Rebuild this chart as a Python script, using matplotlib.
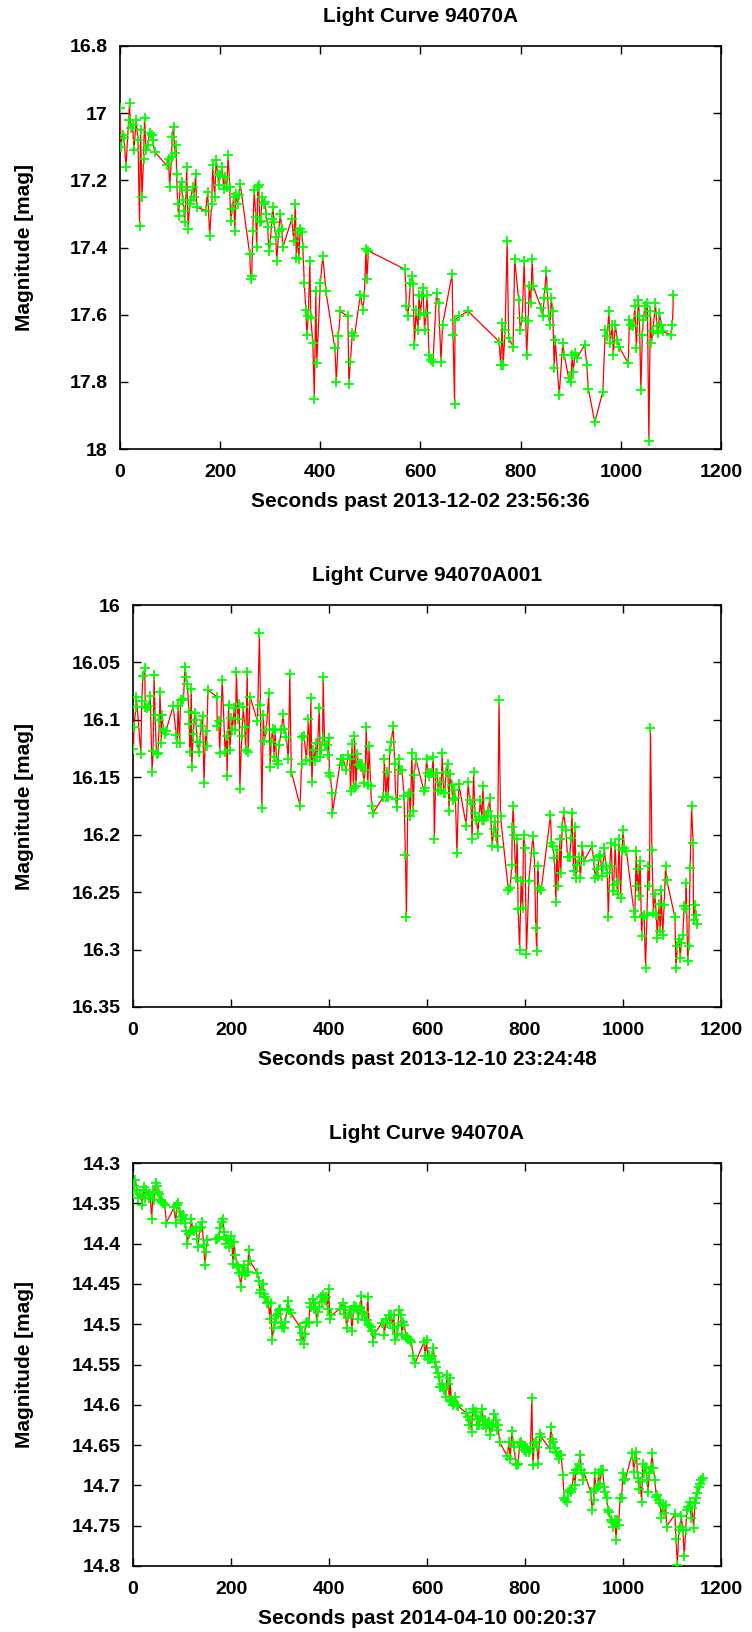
import numpy as np
import matplotlib
matplotlib.use("Agg")
import matplotlib.pyplot as plt
import matplotlib.ticker as mticker

# ── Panel 1: Light Curve 94070A (2013-12-02) ────────────────────────────────
t1 = [0, 2, 5, 8, 12, 17, 19, 21, 25, 28, 32, 36, 39, 41, 44, 47, 49, 52, 55, 59,
      63, 65, 69, 93, 97, 99, 103, 104, 107, 109, 112, 113, 115, 117, 120, 123, 125,
      128, 129, 132, 133, 136, 139, 141, 145, 148, 151, 153, 171, 175, 179, 183, 185,
      189, 192, 195, 197, 200, 204, 207, 209, 213, 216, 219, 221, 224, 227, 229, 232,
      235, 237, 240, 259, 261, 263, 265, 268, 271, 273, 275, 277, 279, 281, 284, 287,
      289, 292, 295, 297, 300, 303, 305, 308, 311, 313, 317, 320, 323, 325, 343, 347,
      350, 352, 355, 357, 360, 363, 365, 368, 371, 373, 376, 379, 381, 385, 388, 391,
      393, 400, 405, 411, 429, 432, 436, 440, 455, 457, 460, 464, 468, 480, 485, 488,
      491, 493, 496, 569, 572, 575, 580, 583, 585, 588, 591, 595, 597, 600, 603, 605,
      608, 611, 613, 617, 621, 625, 632, 636, 641, 644, 663, 665, 668, 669, 677, 695,
      757, 760, 763, 765, 769, 773, 776, 785, 788, 796, 799, 803, 807, 812, 815, 817,
      820, 823, 825, 841, 844, 847, 851, 853, 856, 859, 861, 864, 867, 869, 877, 884,
      887, 896, 900, 903, 905, 909, 912, 928, 932, 935, 948, 964, 969, 973, 976, 979,
      983, 985, 989, 993, 996, 1015, 1017, 1021, 1025, 1028, 1031, 1035, 1037, 1040,
      1043, 1045, 1048, 1051, 1053, 1056, 1059, 1061, 1064, 1069, 1072, 1075, 1077,
      1081, 1084, 1100, 1103, 1105]
m1 = [16.985, 17.10, 17.065, 17.075, 17.16, 17.02, 16.97, 17.045, 17.035, 17.11, 17.02,
      17.08, 17.335, 17.05, 17.25, 17.135, 17.015, 17.11, 17.095, 17.06, 17.065, 17.08,
      17.115, 17.155, 17.135, 17.22, 17.13, 17.07, 17.04, 17.12, 17.095, 17.18, 17.27,
      17.305, 17.22, 17.205, 17.26, 17.29, 17.325, 17.23, 17.16, 17.345, 17.27, 17.26,
      17.22, 17.25, 17.18, 17.28, 17.29, 17.235, 17.365, 17.27, 17.155, 17.25, 17.14,
      17.18, 17.215, 17.185, 17.16, 17.225, 17.19, 17.22, 17.125, 17.22, 17.32, 17.285,
      17.25, 17.35, 17.24, 17.27, 17.245, 17.21, 17.42, 17.495, 17.485, 17.35, 17.23,
      17.31, 17.40, 17.22, 17.215, 17.325, 17.32, 17.25, 17.27, 17.265, 17.30, 17.34,
      17.41, 17.39, 17.315, 17.28, 17.325, 17.37, 17.44, 17.35, 17.30, 17.345, 17.40,
      17.315, 17.38, 17.27, 17.43, 17.355, 17.435, 17.345, 17.355, 17.40, 17.505,
      17.585, 17.66, 17.605, 17.44, 17.61, 17.685, 17.85, 17.53, 17.745, 17.505,
      17.425, 17.53, 17.70, 17.80, 17.665, 17.59, 17.605, 17.805, 17.74, 17.655,
      17.665, 17.54, 17.585, 17.545, 17.405, 17.495, 17.41, 17.465, 17.575, 17.605,
      17.505, 17.485, 17.51, 17.69, 17.585, 17.645, 17.54, 17.60, 17.545, 17.52,
      17.645, 17.595, 17.54, 17.72, 17.735, 17.74, 17.535, 17.565, 17.74, 17.63, 17.48,
      17.66, 17.865, 17.615, 17.605, 17.59, 17.68, 17.75, 17.625, 17.75, 17.645, 17.38,
      17.67, 17.695, 17.435, 17.555, 17.645, 17.61, 17.44, 17.72, 17.62, 17.515,
      17.565, 17.435, 17.515, 17.58, 17.605, 17.55, 17.47, 17.525, 17.605, 17.63,
      17.55, 17.59, 17.76, 17.675, 17.84, 17.685, 17.72, 17.79, 17.80, 17.72, 17.77,
      17.715, 17.73, 17.69, 17.75, 17.82, 17.92, 17.83, 17.645, 17.665, 17.59, 17.685,
      17.63, 17.72, 17.63, 17.675, 17.695, 17.745, 17.615, 17.63, 17.635, 17.575,
      17.70, 17.555, 17.605, 17.825, 17.66, 17.615, 17.575, 17.605, 17.565, 17.975,
      17.59, 17.685, 17.65, 17.565, 17.635, 17.655, 17.595, 17.63, 17.65, 17.66,
      17.63, 17.54]

# ── Panel 2: Light Curve 94070A001 (2013-12-10) ─────────────────────────────
t2 = [1, 2, 6, 7, 16, 18, 20, 24, 25, 28, 32, 35, 39, 41, 43, 45, 48, 51, 54, 55, 58,
      59, 62, 65, 67, 82, 88, 90, 92, 95, 97, 100, 103, 106, 108, 111, 114, 115, 116,
      119, 120, 123, 126, 128, 131, 134, 136, 139, 142, 145, 148, 150, 153, 171, 172,
      175, 177, 182, 188, 191, 192, 195, 198, 201, 203, 206, 209, 211, 214, 217, 218,
      222, 225, 228, 230, 233, 235, 239, 254, 258, 260, 263, 266, 268, 272, 277, 280,
      282, 285, 288, 290, 293, 296, 298, 303, 306, 309, 313, 317, 320, 323, 341, 344,
      345, 349, 354, 358, 361, 363, 365, 368, 371, 373, 376, 380, 382, 384, 387, 388,
      391, 395, 398, 399, 401, 403, 406, 407, 424, 427, 429, 435, 439, 442, 444, 447,
      450, 452, 455, 458, 460, 463, 466, 468, 471, 474, 476, 479, 482, 485, 487, 490,
      511, 513, 516, 519, 521, 524, 527, 531, 534, 536, 539, 542, 545, 549, 553, 556,
      558, 561, 564, 566, 569, 572, 574, 577, 594, 596, 599, 602, 605, 607, 610, 613,
      615, 618, 621, 623, 626, 629, 631, 634, 636, 639, 642, 645, 647, 650, 653, 656,
      658, 661, 665, 680, 684, 687, 690, 692, 695, 698, 701, 704, 706, 709, 712, 714,
      717, 720, 722, 725, 728, 730, 733, 736, 739, 741, 744, 747, 750, 766, 770, 773,
      774, 776, 778, 781, 784, 786, 789, 792, 795, 797, 800, 803, 808, 816, 819, 822,
      824, 826, 828, 833, 852, 854, 857, 860, 863, 865, 868, 871, 873, 876, 879, 883,
      887, 891, 894, 896, 899, 902, 904, 907, 910, 913, 917, 920, 937, 940, 943, 946,
      948, 951, 954, 957, 959, 962, 965, 968, 970, 973, 976, 979, 981, 984, 987, 989,
      992, 995, 998, 1000, 1003, 1007, 1022, 1024, 1027, 1028, 1030, 1032, 1035, 1038,
      1040, 1043, 1046, 1049, 1051, 1054, 1056, 1059, 1062, 1065, 1068, 1070, 1073,
      1076, 1078, 1081, 1084, 1087, 1089, 1106, 1108, 1111, 1114, 1117, 1119, 1122,
      1125, 1128, 1129, 1132, 1134, 1137, 1140, 1143, 1144, 1147, 1149, 1152]
m2 = [16.125, 16.106, 16.089, 16.08, 16.13, 16.084, 16.062, 16.055, 16.089, 16.09,
      16.088, 16.079, 16.145, 16.127, 16.061, 16.096, 16.13, 16.129, 16.10, 16.076,
      16.12, 16.096, 16.108, 16.112, 16.11, 16.088, 16.113, 16.12, 16.088, 16.12,
      16.083, 16.083, 16.082, 16.054, 16.063, 16.069, 16.093, 16.104, 16.128, 16.073,
      16.141, 16.112, 16.094, 16.10, 16.119, 16.128, 16.119, 16.105, 16.097, 16.155,
      16.11, 16.123, 16.074, 16.08, 16.105, 16.101, 16.129, 16.065, 16.128, 16.114,
      16.149, 16.087, 16.126, 16.098, 16.109, 16.09, 16.109, 16.058, 16.099, 16.086,
      16.16, 16.114, 16.089, 16.106, 16.126, 16.058, 16.128, 16.08, 16.101, 16.024,
      16.087, 16.177, 16.096, 16.118, 16.109, 16.077, 16.141, 16.119, 16.108, 16.132,
      16.109, 16.136, 16.138, 16.122, 16.109, 16.095, 16.108, 16.115, 16.134, 16.06,
      16.145, 16.175, 16.138, 16.115, 16.114, 16.135, 16.099, 16.136, 16.081, 16.154,
      16.126, 16.136, 16.12, 16.132, 16.09, 16.132, 16.126, 16.116, 16.063, 16.122,
      16.122, 16.131, 16.116, 16.146, 16.149, 16.164, 16.181, 16.134, 16.139, 16.134,
      16.144, 16.131, 16.134, 16.162, 16.121, 16.159, 16.114, 16.158, 16.13, 16.139,
      16.138, 16.141, 16.138, 16.155, 16.144, 16.106, 16.157, 16.123, 16.158, 16.175,
      16.181, 16.167, 16.134, 16.167, 16.145, 16.167, 16.126, 16.119, 16.105, 16.138,
      16.169, 16.176, 16.134, 16.144, 16.144, 16.166, 16.218, 16.272, 16.166, 16.164,
      16.184, 16.129, 16.179, 16.148, 16.134, 16.162, 16.159, 16.134, 16.146, 16.149,
      16.146, 16.146, 16.132, 16.204, 16.146, 16.146, 16.162, 16.154, 16.161, 16.129,
      16.164, 16.164, 16.145, 16.138, 16.179, 16.147, 16.157, 16.17, 16.161, 16.168,
      16.216, 16.156, 16.192, 16.154, 16.17, 16.173, 16.204, 16.145, 16.181, 16.187,
      16.199, 16.185, 16.17, 16.187, 16.158, 16.187, 16.185, 16.184, 16.179, 16.168,
      16.184, 16.21, 16.195, 16.189, 16.201, 16.211, 16.083, 16.184, 16.248, 16.246,
      16.226, 16.193, 16.175, 16.20, 16.238, 16.204, 16.265, 16.30, 16.24, 16.264,
      16.20, 16.212, 16.304, 16.24, 16.201, 16.216, 16.281, 16.301, 16.227, 16.246,
      16.248, 16.183, 16.207, 16.21, 16.22, 16.259, 16.213, 16.245, 16.204, 16.233,
      16.193, 16.18, 16.196, 16.219, 16.219, 16.203, 16.181, 16.232, 16.193, 16.238,
      16.226, 16.219, 16.238, 16.21, 16.223, 16.21, 16.222, 16.238, 16.23, 16.236,
      16.219, 16.218, 16.236, 16.227, 16.212, 16.227, 16.233, 16.272, 16.227, 16.207,
      16.249, 16.244, 16.209, 16.241, 16.252, 16.204, 16.255, 16.213, 16.196, 16.212,
      16.214, 16.266, 16.272, 16.214, 16.245, 16.23, 16.253, 16.223, 16.288, 16.272,
      16.27, 16.316, 16.27, 16.227, 16.245, 16.107, 16.213, 16.268, 16.252, 16.27,
      16.29, 16.26, 16.284, 16.248, 16.287, 16.261, 16.227, 16.239, 16.272, 16.316,
      16.297, 16.291, 16.307, 16.294, 16.287, 16.262, 16.265, 16.242, 16.31, 16.297,
      16.229, 16.175, 16.207, 16.274, 16.261, 16.27, 16.278]

# ── Panel 3: Light Curve 94070A (2014-04-10) ────────────────────────────────
t3 = [0, 3, 5, 8, 11, 14, 16, 19, 22, 24, 27, 30, 33, 35, 38, 41, 43, 46, 49, 52, 54,
      57, 60, 62, 65, 68, 84, 87, 90, 92, 95, 98, 100, 103, 106, 109, 111, 114, 117,
      119, 122, 125, 128, 130, 133, 136, 138, 141, 144, 147, 149, 152, 170, 172, 175,
      178, 181, 183, 186, 189, 190, 193, 196, 198, 201, 204, 206, 209, 212, 215, 217,
      220, 223, 226, 228, 231, 234, 236, 238, 254, 257, 259, 262, 265, 268, 270, 273,
      276, 279, 281, 284, 287, 289, 292, 295, 297, 300, 303, 305, 308, 311, 314, 316,
      319, 322, 340, 342, 345, 348, 350, 353, 356, 359, 361, 364, 367, 370, 372, 375,
      378, 380, 383, 386, 388, 391, 394, 397, 399, 402, 405, 422, 428, 430, 433, 436,
      439, 441, 444, 447, 450, 452, 455, 458, 460, 463, 466, 468, 471, 474, 477, 479,
      482, 485, 488, 490, 493, 508, 511, 513, 516, 519, 522, 524, 527, 530, 532, 535,
      538, 541, 543, 546, 549, 551, 554, 557, 560, 562, 565, 568, 572, 576, 594, 596,
      599, 602, 604, 607, 610, 613, 616, 619, 622, 625, 627, 630, 632, 635, 638, 641,
      643, 646, 647, 650, 653, 655, 658, 661, 664, 680, 683, 685, 688, 691, 693, 696,
      699, 702, 705, 707, 710, 713, 715, 718, 721, 724, 726, 729, 732, 734, 737, 740,
      743, 745, 748, 764, 767, 770, 773, 775, 778, 781, 784, 786, 789, 792, 794, 797,
      800, 803, 805, 808, 811, 814, 816, 819, 822, 825, 827, 830, 833, 850, 853, 855,
      858, 861, 863, 866, 869, 872, 874, 877, 880, 882, 885, 888, 891, 893, 896, 899,
      902, 904, 907, 910, 913, 915, 918, 921, 934, 937, 940, 942, 945, 948, 950, 953,
      956, 959, 961, 964, 967, 969, 972, 975, 977, 980, 983, 986, 988, 991, 994, 997,
      1000, 1003, 1005, 1019, 1022, 1024, 1027, 1030, 1033, 1035, 1038, 1040, 1043,
      1046, 1049, 1051, 1054, 1057, 1059, 1062, 1065, 1068, 1070, 1073, 1076, 1078,
      1081, 1084, 1087, 1089, 1106, 1108, 1111, 1114, 1117, 1119, 1122, 1125, 1128,
      1130, 1133, 1136, 1139, 1141, 1144, 1147, 1149, 1152, 1155, 1158, 1160, 1163]
m3 = [14.336, 14.328, 14.321, 14.334, 14.344, 14.338, 14.34, 14.352, 14.33, 14.344,
      14.333, 14.34, 14.344, 14.338, 14.37, 14.336, 14.346, 14.325, 14.329, 14.336,
      14.338, 14.346, 14.348, 14.35, 14.352, 14.374, 14.355, 14.374, 14.352, 14.35,
      14.361, 14.371, 14.367, 14.364, 14.375, 14.384, 14.40, 14.388, 14.386, 14.369,
      14.383, 14.384, 14.381, 14.394, 14.404, 14.381, 14.379, 14.373, 14.402, 14.426,
      14.41, 14.395, 14.394, 14.394, 14.392, 14.381, 14.373, 14.37, 14.386, 14.394,
      14.401, 14.396, 14.404, 14.40, 14.39, 14.425, 14.398, 14.414, 14.427, 14.429,
      14.437, 14.454, 14.435, 14.427, 14.439, 14.435, 14.435, 14.408, 14.421, 14.437,
      14.446, 14.461, 14.458, 14.45, 14.463, 14.466, 14.474, 14.472, 14.493, 14.474,
      14.52, 14.505, 14.497, 14.49, 14.487, 14.483, 14.481, 14.498, 14.503, 14.505,
      14.497, 14.481, 14.471, 14.483, 14.486, 14.503, 14.52, 14.511, 14.524, 14.512,
      14.499, 14.497, 14.499, 14.474, 14.479, 14.469, 14.481, 14.474, 14.497, 14.485,
      14.479, 14.466, 14.472, 14.464, 14.47, 14.466, 14.481, 14.456, 14.493, 14.489,
      14.481, 14.474, 14.487, 14.479, 14.505, 14.491, 14.487, 14.483, 14.509, 14.481,
      14.478, 14.479, 14.483, 14.493, 14.479, 14.465, 14.487, 14.485, 14.495, 14.495,
      14.466, 14.501, 14.503, 14.509, 14.522, 14.512, 14.498, 14.498, 14.514, 14.493,
      14.499, 14.488, 14.498, 14.488, 14.505, 14.488, 14.519, 14.512, 14.502, 14.483,
      14.488, 14.514, 14.497, 14.501, 14.516, 14.516, 14.518, 14.52, 14.522, 14.54,
      14.548, 14.522, 14.54, 14.52, 14.543, 14.538, 14.543, 14.54, 14.53, 14.547,
      14.553, 14.561, 14.565, 14.578, 14.574, 14.578, 14.582, 14.59, 14.563, 14.574,
      14.594, 14.567, 14.596, 14.60, 14.598, 14.59, 14.60, 14.602, 14.61, 14.615,
      14.625, 14.619, 14.634, 14.605, 14.609, 14.609, 14.625, 14.617, 14.625, 14.615,
      14.605, 14.625, 14.619, 14.629, 14.622, 14.621, 14.638, 14.628, 14.625, 14.611,
      14.619, 14.631, 14.625, 14.646, 14.664, 14.646, 14.667, 14.632, 14.646, 14.652,
      14.673, 14.675, 14.673, 14.648, 14.646, 14.65, 14.656, 14.652, 14.658, 14.654,
      14.658, 14.656, 14.591, 14.675, 14.648, 14.646, 14.652, 14.673, 14.636, 14.64,
      14.654, 14.627, 14.642, 14.646, 14.654, 14.658, 14.66, 14.667, 14.662, 14.662,
      14.687, 14.716, 14.718, 14.72, 14.708, 14.706, 14.708, 14.704, 14.685, 14.70,
      14.681, 14.681, 14.673, 14.662, 14.681, 14.693, 14.685, 14.708, 14.73, 14.718,
      14.685, 14.704, 14.702, 14.685, 14.698, 14.681, 14.681, 14.702, 14.708, 14.716,
      14.731, 14.733, 14.743, 14.745, 14.751, 14.743, 14.768, 14.743, 14.749, 14.716,
      14.716, 14.685, 14.693, 14.692, 14.66, 14.683, 14.667, 14.658, 14.691, 14.705,
      14.696, 14.72, 14.673, 14.685, 14.677, 14.693, 14.708, 14.685, 14.679, 14.66,
      14.679, 14.693, 14.714, 14.712, 14.718, 14.722, 14.741, 14.726, 14.734, 14.724,
      14.751, 14.736, 14.766, 14.799, 14.755, 14.751, 14.738, 14.755, 14.787, 14.755,
      14.731, 14.727, 14.72, 14.741, 14.728, 14.753, 14.722, 14.716, 14.71, 14.702,
      14.698, 14.693, 14.691]

titles = ["Light Curve 94070A", "Light Curve 94070A001", "Light Curve 94070A"]
xlabels = ["Seconds past 2013-12-02 23:56:36",
           "Seconds past 2013-12-10 23:24:48",
           "Seconds past 2014-04-10 00:20:37"]
ylims = [(16.8, 18.0), (16.0, 16.35), (14.3, 14.8)]
ysteps = [0.2, 0.05, 0.05]

# axes rectangles in pixels of the 752x1632 canvas: (left, top, right, bottom)
W, H = 752, 1632
boxes = [(120, 46, 721, 449), (133, 605, 721, 1007), (133, 1163, 721, 1566)]
YLABEL_X = 34   # pixel x of the right edge of the rotated y label

plt.rcParams.update({
    "font.family": ["Liberation Sans", "DejaVu Sans"],
    "font.weight": "bold",
    "font.size": 14,
})

fig = plt.figure(figsize=(W / 100, H / 100), dpi=100)
fig.patch.set_facecolor("white")

for (t, m), title, xl, yl, ys, (l, tp, r, b) in zip(
        [(t1, m1), (t2, m2), (t3, m3)], titles, xlabels, ylims, ysteps, boxes):
    ax = fig.add_axes([l / W, 1 - b / H, (r - l) / W, (b - tp) / H])
    ax.plot(t, m, color="#ff0000", lw=0.9, marker="+", ms=7.5, mew=1.3,
            mec="#00ff00", zorder=3)
    ax.set_xlim(0, 1200)
    ax.set_ylim(yl[1], yl[0])
    ax.xaxis.set_major_locator(mticker.MultipleLocator(200))
    ax.yaxis.set_major_locator(mticker.MultipleLocator(ys))
    ax.yaxis.set_major_formatter(mticker.FuncFormatter(lambda v, p: f"{v:g}"))
    ax.tick_params(direction="in", top=True, right=True, length=6, width=1,
                   labelsize=14)
    ax.tick_params(axis="x", pad=11)
    ax.tick_params(axis="y", pad=9)
    for s in ax.spines.values():
        s.set_linewidth(1.2)
    ax.set_title(title, fontsize=15, fontweight="bold", pad=17)
    ax.set_xlabel(xl, fontsize=15, fontweight="bold", labelpad=8)
    ax.set_ylabel("Magnitude [mag]", fontsize=15, fontweight="bold")
    ax.yaxis.set_label_coords((YLABEL_X - l) / (r - l), 0.5)
    for lab in ax.get_xticklabels() + ax.get_yticklabels():
        lab.set_fontweight("bold")

fig.savefig("out.png", dpi=100, facecolor="white")
